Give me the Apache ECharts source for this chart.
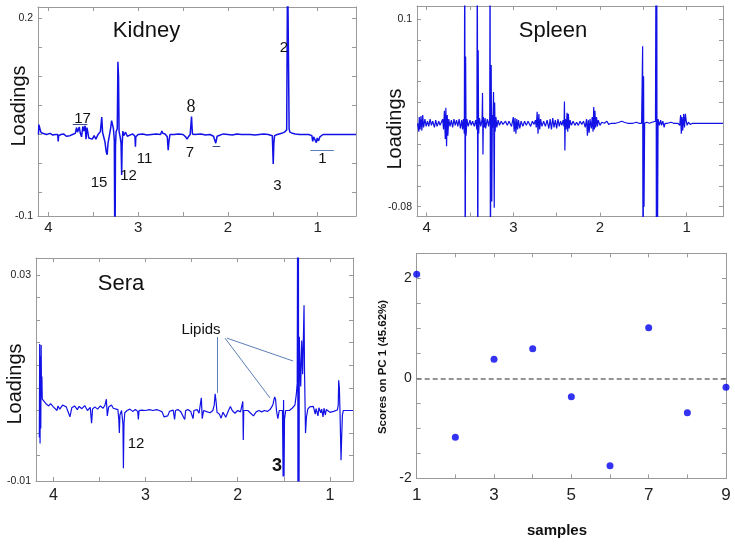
<!DOCTYPE html>
<html>
<head>
<meta charset="utf-8">
<script src="https://cdn.jsdelivr.net/npm/echarts@6/dist/echarts.min.js"></script>
<style>html,body{margin:0;padding:0;background:#fff}#c{width:735px;height:544px}</style>
</head>
<body>
<div id="c"></div>
<script>
// ---------------- DATA ----------------
// Kidney loadings (ppm, loading)
const kidneyPpm = [4.11,4.105,4.095,4.09,4.08,4.06,4.02,3.98,3.95,3.92,3.895,3.89,3.885,3.86,3.83,3.80,3.78,3.76,3.73,3.70,3.685,3.675,3.665,3.655,3.645,3.63,3.615,3.605,3.59,3.58,3.57,3.56,3.55,3.53,3.51,3.49,3.47,3.45,3.42,3.405,3.40,3.395,3.38,3.37,3.355,3.345,3.335,3.32,3.305,3.295,3.285,3.275,3.265,3.258,3.252,3.245,3.232,3.225,3.218,3.212,3.20,3.19,3.183,3.178,3.17,3.16,3.14,3.12,3.10,3.06,3.035,3.03,3.025,3.00,2.95,2.90,2.85,2.80,2.75,2.735,2.725,2.70,2.675,2.665,2.655,2.645,2.60,2.55,2.50,2.47,2.455,2.44,2.42,2.405,2.40,2.395,2.37,2.30,2.25,2.20,2.16,2.135,2.12,2.10,2.05,2.00,1.95,1.90,1.85,1.80,1.75,1.70,1.65,1.60,1.55,1.505,1.495,1.488,1.48,1.45,1.40,1.37,1.345,1.335,1.325,1.318,1.31,1.28,1.25,1.20,1.15,1.10,1.065,1.055,1.045,1.03,1.015,1.005,0.99,0.975,0.96,0.94,0.90,0.80,0.70,0.573];
const kidneyLoad = [0.0,0.017,0.018,0.008,0.003,0.001,0.0,0.002,-0.001,0.0,0.0,-0.012,-0.002,0.0,0.001,-0.003,-0.006,-0.002,0.0,0.002,0.012,0.004,0.006,0.013,0.003,-0.004,0.014,0.006,0.015,-0.008,0.012,0.004,-0.006,-0.003,-0.008,-0.002,-0.008,-0.001,0.005,0.030,0.028,0.003,-0.006,-0.012,-0.030,-0.035,-0.015,-0.002,0.012,0.024,0.026,0.010,-0.010,-0.25,-0.02,0.005,0.01,0.1255,0.10,0.005,-0.004,-0.015,-0.07,-0.02,0.006,-0.002,0.004,-0.003,0.0,0.001,-0.003,-0.021,-0.004,0.0,0.001,-0.001,0.0,0.001,0.0,0.006,0.002,0.001,-0.004,-0.027,-0.01,0.0,0.0,0.001,0.0,-0.004,-0.008,-0.004,0.0,0.031,0.03,0.001,0.0,0.001,-0.001,0.0,-0.003,-0.015,-0.003,0.0,0.001,0.0,-0.001,0.001,0.0,0.0,0.0,-0.001,0.0,0.001,0.0,-0.002,-0.051,-0.015,-0.002,0.0,0.002,0.004,0.008,0.3,0.3,0.01,0.004,0.002,0.001,0.0,0.0,0.0,-0.002,-0.012,-0.004,-0.003,-0.014,-0.006,-0.011,-0.004,-0.003,0.0,0.0,0.0,0.0,0.0];

// Spleen loadings
const spleenPpm = [4.105,4.09,4.085,4.075,4.065,4.055,4.045,4.035,4.02,4.005,3.99,3.975,3.96,3.945,3.93,3.91,3.895,3.88,3.86,3.845,3.83,3.815,3.805,3.795,3.785,3.778,3.77,3.762,3.755,3.745,3.73,3.715,3.70,3.685,3.67,3.655,3.64,3.625,3.61,3.595,3.585,3.575,3.565,3.56,3.555,3.55,3.545,3.535,3.52,3.50,3.485,3.47,3.45,3.435,3.42,3.415,3.41,3.405,3.40,3.39,3.375,3.36,3.355,3.35,3.345,3.335,3.325,3.32,3.30,3.285,3.272,3.268,3.264,3.26,3.255,3.248,3.242,3.236,3.228,3.22,3.215,3.21,3.20,3.19,3.175,3.16,3.14,3.12,3.09,3.07,3.05,3.02,3.0,2.99,2.98,2.97,2.96,2.95,2.94,2.925,2.91,2.89,2.87,2.85,2.83,2.80,2.78,2.76,2.745,2.735,2.725,2.715,2.705,2.695,2.685,2.67,2.65,2.63,2.61,2.59,2.575,2.56,2.545,2.53,2.515,2.50,2.485,2.47,2.455,2.44,2.425,2.415,2.41,2.405,2.40,2.39,2.38,2.372,2.365,2.355,2.345,2.33,2.31,2.29,2.27,2.25,2.23,2.21,2.19,2.17,2.155,2.145,2.135,2.125,2.115,2.10,2.09,2.08,2.072,2.065,2.058,2.05,2.04,2.03,2.02,2.0,1.98,1.95,1.92,1.90,1.87,1.82,1.78,1.75,1.72,1.68,1.62,1.58,1.55,1.52,1.508,1.503,1.497,1.492,1.485,1.46,1.43,1.40,1.38,1.36,1.353,1.349,1.345,1.341,1.33,1.315,1.30,1.29,1.275,1.26,1.25,1.22,1.18,1.15,1.10,1.08,1.07,1.062,1.055,1.045,1.035,1.025,1.015,1.005,0.995,0.98,0.96,0.93,0.85,0.581];
const spleenLoad = [0.0,-0.008,0.006,-0.006,0.007,-0.007,0.008,-0.004,0.004,-0.003,0.002,-0.003,0.004,-0.002,0.002,-0.004,0.003,-0.003,0.002,-0.002,0.001,0.004,-0.006,0.012,-0.015,0.015,-0.022,0.008,-0.012,0.004,-0.003,0.003,-0.004,0.004,-0.002,0.003,-0.003,0.004,-0.005,0.003,-0.006,0.004,-0.01,0.2,-0.2,0.064,-0.012,0.004,-0.003,0.003,-0.002,0.002,-0.003,0.003,-0.006,0.2,-0.2,0.07,-0.01,0.005,-0.003,0.004,0.029,-0.03,0.006,-0.004,0.005,-0.005,0.004,-0.003,0.005,0.2,-0.2,0.01,0.056,-0.075,0.008,-0.004,0.03,-0.081,0.02,-0.008,0.006,-0.004,0.003,-0.002,0.002,-0.001,0.002,-0.002,0.002,-0.003,0.006,-0.008,0.005,-0.01,0.004,-0.006,0.003,-0.005,0.002,-0.003,0.002,-0.002,0.002,-0.003,0.002,-0.001,0.003,-0.004,0.011,-0.01,0.009,-0.006,0.004,-0.003,0.002,-0.003,0.003,-0.005,0.004,-0.006,0.005,-0.004,0.003,-0.005,0.004,-0.003,0.002,-0.002,0.003,-0.003,0.021,-0.026,0.004,-0.006,0.01,-0.008,0.009,-0.005,0.003,-0.002,0.002,-0.002,0.001,-0.002,0.002,-0.001,0.002,-0.004,0.004,-0.012,0.003,-0.009,0.004,-0.005,0.006,-0.008,0.0155,-0.006,0.012,-0.004,0.006,-0.003,0.003,-0.002,0.001,0.0,0.002,-0.001,0.0,0.0,0.001,0.002,0.001,0.0,0.0,0.001,0.0,0.0,0.074,-0.2,0.045,-0.08,0.0,0.001,0.0,0.001,0.0,0.002,0.2,-0.2,0.2,-0.2,0.004,-0.002,0.003,-0.002,0.002,-0.004,0.0,0.0,0.001,0.0,0.0,-0.002,0.008,-0.01,0.006,-0.007,0.009,-0.004,0.009,0.002,-0.002,0.001,-0.001,0.0,0.0,0.0];

// Sera loadings
const seraPpm = [4.152,4.148,4.144,4.14,4.136,4.132,4.128,4.124,4.12,4.10,4.08,4.05,4.03,4.0,3.98,3.96,3.95,3.93,3.90,3.86,3.84,3.82,3.80,3.77,3.74,3.72,3.69,3.66,3.63,3.60,3.585,3.575,3.55,3.52,3.49,3.46,3.44,3.425,3.415,3.40,3.37,3.35,3.33,3.30,3.29,3.284,3.278,3.26,3.245,3.24,3.234,3.225,3.20,3.17,3.14,3.11,3.085,3.078,3.07,3.04,3.00,2.96,2.92,2.88,2.85,2.82,2.80,2.76,2.74,2.70,2.685,2.675,2.65,2.62,2.60,2.575,2.565,2.54,2.51,2.485,2.475,2.44,2.42,2.395,2.385,2.37,2.33,2.30,2.27,2.255,2.245,2.235,2.225,2.20,2.18,2.16,2.13,2.10,2.08,2.06,2.03,2.0,1.97,1.945,1.94,1.935,1.92,1.89,1.86,1.83,1.80,1.77,1.74,1.71,1.68,1.65,1.62,1.60,1.59,1.58,1.565,1.55,1.53,1.515,1.508,1.503,1.498,1.493,1.48,1.46,1.44,1.41,1.38,1.365,1.355,1.35,1.346,1.342,1.338,1.332,1.322,1.317,1.306,1.296,1.286,1.281,1.276,1.265,1.255,1.24,1.22,1.20,1.18,1.16,1.15,1.13,1.12,1.10,1.09,1.075,1.065,1.05,1.04,1.02,1.0,0.98,0.96,0.94,0.92,0.91,0.905,0.898,0.89,0.88,0.873,0.865,0.855,0.84,0.80,0.75];
const seraLoad = [-0.006,0.0147,-0.0073,0.012,-0.004,0.0145,0.003,0.0075,0.0025,0.002,0.0015,0.001,0.0015,0.0008,0.0012,0.0,0.001,0.0003,0.0012,0.0008,0.0004,-0.0014,0.0006,0.001,0.0002,0.0009,0.0004,0.0011,0.0,0.0007,-0.0028,0.0003,0.0008,0.0003,0.001,0.0005,0.0012,0.0025,-0.0012,0.0008,0.0012,0.0005,0.0006,0.0002,-0.002,-0.005,-0.001,0.0,-0.003,-0.0128,-0.003,-0.0005,0.0,0.0003,-0.0002,0.0002,-0.0002,-0.002,0.0,0.0001,0.0,0.0002,0.0,0.0002,0.0,-0.0003,-0.0014,-0.0012,-0.0002,0.0001,-0.002,0.0,0.0002,-0.0002,0.0,-0.002,0.0,0.0002,-0.0002,-0.0018,0.0,0.0002,-0.0006,0.0028,-0.0018,0.0,-0.0003,-0.0005,0.0,0.0012,0.0037,0.002,-0.0004,-0.0008,-0.0017,-0.0004,-0.0015,0.0,0.0009,0.0,-0.0006,0.0,-0.0003,0.002,-0.0065,0.0,-0.0002,0.0,-0.0006,-0.0012,-0.0003,0.0,-0.0003,0.0,-0.0002,0.0002,0.0012,0.003,0.0025,0.0,-0.0018,0.0,-0.0003,0.0,-0.0146,0.0023,-0.0146,-0.002,0.0,-0.0003,0.0,0.0005,0.0012,0.0035,0.006,0.05,-0.05,0.05,-0.05,0.0163,0.008,0.0053,0.0155,0.008,0.018,0.0233,0.009,-0.005,-0.0015,0.0003,0.0008,0.0004,0.0009,-0.0008,0.0004,-0.0012,0.0006,-0.0005,0.0003,-0.0014,0.0005,-0.001,0.0002,0.0,-0.0004,0.0,-0.0002,0.0,0.0001,0.0012,0.0067,0.005,-0.001,-0.011,-0.006,-0.001,0.0,0.0,0.0,0.0];

// PC1 scores
const sampleIds = [1,2,3,4,5,6,7,8,9];
const pc1Scores = [2.08,-1.18,0.38,0.59,-0.37,-1.75,1.01,-0.69,-0.18];

// tick labels
const ppmTickLabels = [4,3,2,1];
const kidneyYLabels = ['0.2','-0.1'];
const spleenYLabels = ['0.1','-0.08'];
const seraYLabels = ['0.03','-0.01'];
const sampleTickLabels = [1,3,5,7,9];
const scoreTickLabels = [-2,0,2];

// ---------------- CHART ----------------
const BLUE = '#1212e6';
const FRAME = '#9a9a9a';
const FONT = '"Liberation Sans", Arial, sans-serif';

const grids = [
  {left:38, top:7, width:318, height:209},     // kidney
  {left:417, top:6, width:306, height:210.5},  // spleen
  {left:36, top:258, width:317, height:223},   // sera
  {left:416.7, top:253.3, width:309.3, height:225} // scores
];

const ranges = [
  {xmin:0.573, xmax:4.115, ymin:-0.1405, ymax:0.2198, inv:true},
  {xmin:0.581, xmax:4.111, ymin:-0.0894, ymax:0.1125, inv:true},
  {xmin:0.75, xmax:4.188, ymin:-0.0156, ymax:0.03374, inv:true},
  {xmin:1, xmax:9, ymin:-2, ymax:2.5, inv:false}
];

function seq(a, b, step){ const r=[]; for(let v=a; v<=b+1e-9; v+=step) r.push(+v.toFixed(6)); return r; }

const xTickVals = [seq(1,4,0.5), seq(1,4,0.5), seq(1,4,0.5), seq(1,9,1)];
const yTickVals = [seq(-0.1,0.2,0.05), seq(-0.08,0.1,0.02), seq(-0.01,0.03,0.005), seq(-2,2.5,0.5)];
const yLabelVals = [[ranges[0].ymin,0.2],[-0.08,0.1],[ranges[2].ymin,0.03],scoreTickLabels];
const yLabelFmt = [
  v => Math.abs(v-0.2)<1e-9 ? kidneyYLabels[0] : kidneyYLabels[1],
  v => Math.abs(v-0.1)<1e-9 ? spleenYLabels[0] : spleenYLabels[1],
  v => Math.abs(v-0.03)<1e-9 ? seraYLabels[0] : seraYLabels[1],
  v => String(v)
];
const xLabelVals = [ppmTickLabels, ppmTickLabels, ppmTickLabels, sampleTickLabels];
const xLabelSize = [15,15,16,17];
const xLabelMargin = [4,4,7,9];
const yLabelSize = [10.5,10.5,10.5,14];

const xAxes = [], yAxes = [];
for (let g=0; g<4; g++){
  const r = ranges[g];
  ['bottom','top'].forEach((pos,k)=>{
    xAxes.push({
      type:'value', gridIndex:g, position:pos, min:r.xmin, max:r.xmax, inverse:r.inv,
      axisLine:{show:true, onZero:false, lineStyle:{color:FRAME, width:1}},
      axisTick:{show:true, inside:true, length:4, lineStyle:{color:FRAME}, customValues:xTickVals[g]},
      axisLabel:{show:k===0, customValues:xLabelVals[g], color:'#222', fontSize:xLabelSize[g], fontFamily:FONT, margin:xLabelMargin[g],
                 formatter: v => String(v)},
      splitLine:{show:false}
    });
  });
  ['left','right'].forEach((pos,k)=>{
    yAxes.push({
      type:'value', gridIndex:g, position:pos, min:r.ymin, max:r.ymax,
      axisLine:{show:true, onZero:false, lineStyle:{color:FRAME, width:1}},
      axisTick:{show:true, inside:true, length:4, lineStyle:{color:FRAME}, customValues:yTickVals[g]},
      axisLabel:{show:k===0, customValues:yLabelVals[g], color:'#222', fontSize:yLabelSize[g], fontFamily:FONT, margin:5,
                 formatter: yLabelFmt[g]},
      splitLine:{show:false}
    });
  });
}

function pairs(xs, ys){ return xs.map((x,i)=>[x, ys[i]]); }

function mline(color, segs){
  return {symbol:'none', silent:true, animation:false, label:{show:false},
          lineStyle:{color:color, width:1, type:'solid'},
          emphasis:{disabled:true},
          data: segs.map(s=>[{coord:[s[0],s[1]]},{coord:[s[2],s[3]]}])};
}

const series = [
  {type:'line', xAxisIndex:0, yAxisIndex:0, data:pairs(kidneyPpm,kidneyLoad), showSymbol:false, symbol:'none',
   lineStyle:{color:BLUE, width:1.5}, animation:false, clip:true,
   markLine: mline('#3b4f86', [[3.728,0.018,3.565,0.018],[2.17,-0.021,2.085,-0.021]])},
  {type:'line', xAxisIndex:0, yAxisIndex:0, data:[], markLine: mline('#5b80b8', [[1.08,-0.028,0.82,-0.028]])},
  {type:'line', xAxisIndex:2, yAxisIndex:2, data:pairs(spleenPpm,spleenLoad), showSymbol:false, symbol:'none',
   lineStyle:{color:BLUE, width:1.2}, animation:false, clip:true},
  {type:'line', xAxisIndex:4, yAxisIndex:4, data:pairs(seraPpm,seraLoad), showSymbol:false, symbol:'none',
   lineStyle:{color:BLUE, width:1.2}, animation:false, clip:true,
   markLine: mline('#5b80b8', [[2.225,0.01626,2.225,0.0039],[2.138,0.016,1.65,0.00277],[2.116,0.016,1.40,0.01095]])},
  {type:'scatter', xAxisIndex:6, yAxisIndex:6, data:pairs(sampleIds,pc1Scores), symbol:'circle', symbolSize:7,
   itemStyle:{color:'#0000ee'}, animation:false, clip:false,
   markLine:{symbol:'none', silent:true, animation:false, label:{show:false},
     lineStyle:{color:'#707070', width:1.5, type:[5,3]}, data:[{yAxis:0}]}}
];

function txt(x, y, text, size, opts){
  opts = opts || {};
  return {type:'text', x:x, y:y, rotation:opts.rot||0, silent:true, z:100,
    style:{text:text, fill:opts.color||'#111', font:(opts.weight||'normal')+' '+size+'px '+(opts.family||FONT),
           textAlign:'center', textVerticalAlign:'middle'}};
}

const graphic = [
  txt(146.5, 31, 'Kidney', 22),
  txt(553, 30.5, 'Spleen', 22),
  txt(121, 283.5, 'Sera', 22),
  txt(19, 106, 'Loadings', 20, {rot:Math.PI/2}),
  txt(395.5, 129, 'Loadings', 20, {rot:Math.PI/2}),
  txt(15.5, 384, 'Loadings', 20, {rot:Math.PI/2}),
  // kidney annotations
  txt(82.5, 118.5, '17', 15),
  txt(191, 107.5, '8', 18, {family:'"Liberation Serif", serif'}),
  txt(190, 152.5, '7', 15),
  txt(144.5, 159, '11', 15),
  txt(128.5, 176, '12', 15),
  txt(99, 182.5, '15', 15),
  txt(284, 47.5, '2', 15),
  txt(277.5, 186, '3', 15),
  txt(322.5, 159, '1', 15),
  // sera annotations
  txt(201, 330, 'Lipids', 15),
  txt(136, 444, '12', 15),
  txt(277, 466.5, '3', 18, {weight:'bold'}),
  // scores axes names
  txt(382.5, 367, 'Scores on PC 1 (45.62%)', 11.5, {rot:Math.PI/2, weight:'bold'}),
  txt(557, 530.5, 'samples', 15, {weight:'bold'})
];

const chart = echarts.init(document.getElementById('c'), null, {renderer:'canvas'});
chart.setOption({
  animation:false,
  backgroundColor:'#ffffff',
  grid: grids.map(g=>Object.assign({containLabel:false, show:false}, g)),
  xAxis: xAxes,
  yAxis: yAxes,
  series: series,
  graphic: graphic
});
</script>
</body>
</html>
